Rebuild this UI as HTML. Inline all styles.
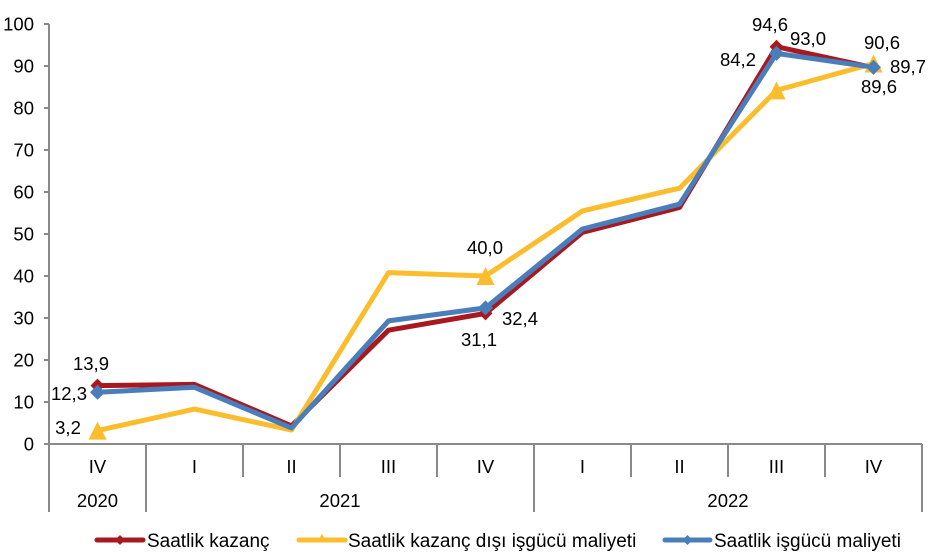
<!DOCTYPE html>
<html><head><meta charset="utf-8"><style>
html,body{margin:0;padding:0;background:#fff;}
svg{display:block;}
text{font-family:"Liberation Sans",Arial,sans-serif;fill:#000;}
</style></head><body>
<svg width="937" height="558" viewBox="0 0 937 558" xmlns="http://www.w3.org/2000/svg">
<rect width="937" height="558" fill="#fff"/>
<!-- axes -->
<g stroke="#898989" stroke-width="2" fill="none">
<line x1="49" y1="24" x2="49" y2="512"/>
<line x1="44" y1="444" x2="922" y2="444"/>
<line x1="44" y1="24" x2="49" y2="24"/>
<line x1="44" y1="66" x2="49" y2="66"/>
<line x1="44" y1="108" x2="49" y2="108"/>
<line x1="44" y1="150" x2="49" y2="150"/>
<line x1="44" y1="192" x2="49" y2="192"/>
<line x1="44" y1="234" x2="49" y2="234"/>
<line x1="44" y1="276" x2="49" y2="276"/>
<line x1="44" y1="318" x2="49" y2="318"/>
<line x1="44" y1="360" x2="49" y2="360"/>
<line x1="44" y1="402" x2="49" y2="402"/>
<line x1="146" y1="444" x2="146" y2="512"/>
<line x1="243" y1="444" x2="243" y2="477"/>
<line x1="340" y1="444" x2="340" y2="477"/>
<line x1="437" y1="444" x2="437" y2="477"/>
<line x1="534" y1="444" x2="534" y2="512"/>
<line x1="631" y1="444" x2="631" y2="477"/>
<line x1="728" y1="444" x2="728" y2="477"/>
<line x1="825" y1="444" x2="825" y2="477"/>
<line x1="922" y1="444" x2="922" y2="512"/>
</g>
<!-- y labels -->
<g font-size="18.5" text-anchor="end">
<text x="34" y="30.5">100</text>
<text x="34" y="72.5">90</text>
<text x="34" y="114.5">80</text>
<text x="34" y="156.5">70</text>
<text x="34" y="198.5">60</text>
<text x="34" y="240.5">50</text>
<text x="34" y="282.5">40</text>
<text x="34" y="324.5">30</text>
<text x="34" y="366.5">20</text>
<text x="34" y="408.5">10</text>
<text x="34" y="450.5">0</text>
</g>
<!-- x labels -->
<g font-size="18.5" text-anchor="middle">
<text x="97.5" y="473">IV</text>
<text x="194.5" y="473">I</text>
<text x="291.5" y="473">II</text>
<text x="388.5" y="473">III</text>
<text x="485.5" y="473">IV</text>
<text x="582.5" y="473">I</text>
<text x="679.5" y="473">II</text>
<text x="776.5" y="473">III</text>
<text x="873.5" y="473">IV</text>
<text x="97.5" y="507">2020</text>
<text x="340" y="507">2021</text>
<text x="728" y="507">2022</text>
</g>
<!-- series -->
<g fill="none" stroke-width="5" stroke-linejoin="round" stroke-linecap="round">
<polyline stroke="#A8191F" points="97.5,385.6 194.5,384.4 291.5,425.9 388.5,330.2 485.5,313.4 582.5,232.3 679.5,207.5 776.5,46.7 873.5,67.7"/>
<polyline stroke="#FBBD2C" points="97.5,430.6 194.5,409.1 291.5,430.1 388.5,272.6 485.5,276 582.5,210.9 679.5,188.2 776.5,90.4 873.5,63.5"/>
<polyline stroke="#4A7EBB" points="97.5,392.3 194.5,387.3 291.5,428.0 388.5,320.9 485.5,307.9 582.5,229.0 679.5,204.2 776.5,53.4 873.5,67.3"/>
</g>
<!-- markers -->
<g fill="#A8191F">
<polygon points="97.5,378.6 104.5,385.6 97.5,392.6 90.5,385.6"/>
<polygon points="485.5,306.4 492.5,313.4 485.5,320.4 478.5,313.4"/>
<polygon points="776.5,39.7 783.5,46.7 776.5,53.7 769.5,46.7"/>
<polygon points="873.5,60.7 880.5,67.7 873.5,74.7 866.5,67.7"/>
</g>
<g fill="#FBBD2C">
<polygon points="97.5,421.6 106.5,439.6 88.5,439.6"/>
<polygon points="485.5,267 494.5,285 476.5,285"/>
<polygon points="776.5,81.4 785.5,99.4 767.5,99.4"/>
<polygon points="873.5,54.5 882.5,72.5 864.5,72.5"/>
</g>
<g fill="#4A7EBB">
<polygon points="97.5,384.8 105,392.3 97.5,399.8 90,392.3"/>
<polygon points="485.5,300.4 493,307.9 485.5,315.4 478,307.9"/>
<polygon points="776.5,45.9 784,53.4 776.5,60.9 769,53.4"/>
<polygon points="873.5,59.8 881,67.3 873.5,74.8 866,67.3"/>
</g>
<!-- data labels -->
<g font-size="18.5" text-anchor="middle">
<text x="91" y="370">13,9</text>
<text x="69" y="400">12,3</text>
<text x="68" y="434">3,2</text>
<text x="485" y="254">40,0</text>
<text x="520" y="325">32,4</text>
<text x="479" y="346">31,1</text>
<text x="770" y="31">94,6</text>
<text x="808" y="45">93,0</text>
<text x="738" y="66">84,2</text>
<text x="882" y="49">90,6</text>
<text x="908" y="73">89,7</text>
<text x="879" y="93">89,6</text>
</g>
<!-- legend -->
<g stroke-width="5" stroke-linecap="round">
<line x1="97" y1="540" x2="143" y2="540" stroke="#A8191F"/>
<line x1="299" y1="540" x2="345" y2="540" stroke="#FBBD2C"/>
<line x1="665" y1="540" x2="710" y2="540" stroke="#4A7EBB"/>
</g>
<polygon points="120,535 125,540 120,545 115,540" fill="#A8191F"/>
<polygon points="322,534 327,542 317,542" fill="#FBBD2C"/>
<polygon points="687.5,535 692.5,540 687.5,545 682.5,540" fill="#4A7EBB"/>
<g font-size="19">
<text x="147" y="547">Saatlik kazanç</text>
<text x="348" y="547">Saatlik kazanç dışı işgücü maliyeti</text>
<text x="714" y="547">Saatlik işgücü maliyeti</text>
</g>
</svg>
</body></html>
